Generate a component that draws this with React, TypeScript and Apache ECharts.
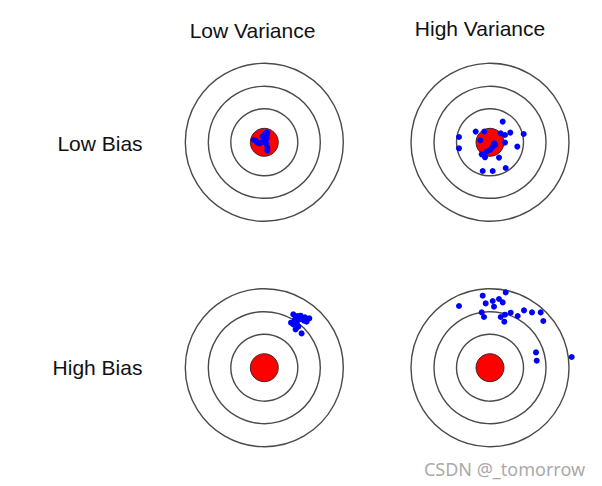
import React, { useEffect, useRef } from "react";
import * as echarts from "echarts";

// Target geometry (data units = pixels relative to each target's centre)
const ringRadii = [79, 56, 33.5];
const bullRadius = 14;

// Column / row labels
const columnLabels = ["Low Variance", "High Variance"];
const rowLabels = ["Low Bias", "High Bias"];

// Shots: [dx, dy] relative to the bull's-eye, y up
const lowBiasLowVar = [
  [-10.3, 2.3], [-7, -0.3], [-4.3, -1], [-1.7, 5.7], [1, 9], [3, 9.7],
  [2.3, 4], [1.7, -1], [3, -5], [3, -8.3], [-1, 0.7], [-8.5, 1.5], [2.5, 7],
];
const lowBiasHighVar = [
  [12.7, 20.7], [-14.3, 10.7], [-5.7, 10.7], [-31, 5.3], [-31, -6], [-9.7, 2],
  [10.7, 9], [15, 7.3], [20.3, 9.7], [33.7, 8.3], [15, -0.3], [27.3, -4.3],
  [4.3, -1], [2.3, -5], [0, -7.7], [-3.3, -9.3], [-8.3, -12], [-5, -15],
  [9, -15.3], [15.7, -25.7], [-7.3, -28.7], [2.7, -28.7], [5, -2.7],
];
const highBiasLowVar = [
  [29, 53.3], [33, 51.7], [36.3, 52], [40.7, 50.3], [45, 49.3], [39.7, 47],
  [35, 48.3], [30.7, 48.3], [26.7, 45], [29, 43.3], [32.3, 44.3], [31.3, 38.3],
  [37.3, 34.3], [34, 41], [42.3, 46],
];
const highBiasHighVar = [
  [15.7, 75.3], [-7.3, 72], [-31, 61.7], [-4.3, 64.3], [2.7, 66.7], [9, 68.7],
  [12.7, 65.3], [4, 61], [-8.3, 55.3], [-6, 50.7], [10.7, 50.7], [14.3, 46],
  [15, 53], [20.7, 55], [27.7, 51.7], [34, 57.3], [42, 55.3], [50.7, 55.3],
  [53.3, 46.7], [46, 15.3], [46.7, 7], [81.7, 10.7],
];

const panels = [
  { shots: lowBiasLowVar, cx: 264.3, cy: 142.3 },
  { shots: lowBiasHighVar, cx: 490, cy: 142.3 },
  { shots: highBiasLowVar, cx: 264.3, cy: 367.7 },
  { shots: highBiasHighVar, cx: 490, cy: 367.7 },
];

const HALF = 90;

export default function App() {
  const ref = useRef<HTMLDivElement>(null);
  useEffect(() => {
    document.body.style.margin = "0";
    if (!ref.current) return;
    const chart = echarts.init(ref.current, null, { renderer: "svg" });

    const grids: any[] = [];
    const xAxes: any[] = [];
    const yAxes: any[] = [];
    const series: any[] = [];

    panels.forEach((p, i) => {
      grids.push({
        left: p.cx - HALF,
        top: p.cy - HALF,
        width: HALF * 2,
        height: HALF * 2,
        containLabel: false,
      });
      const ax = { type: "value", min: -HALF, max: HALF, show: false, gridIndex: i };
      xAxes.push({ ...ax });
      yAxes.push({ ...ax });

      const circleItem = (fill: string, stroke: string, lw: number) =>
        (params: any, api: any) => {
          const c = api.coord([api.value(0), api.value(1)]);
          const r = api.size([api.value(2), 0])[0];
          return {
            type: "circle",
            shape: { cx: c[0], cy: c[1], r },
            style: { fill, stroke, lineWidth: lw },
          };
        };

      series.push({
        type: "custom",
        xAxisIndex: i,
        yAxisIndex: i,
        silent: true,
        clip: false,
        renderItem: circleItem("none", "#4a4a4a", 1.4),
        data: ringRadii.map((r) => [0, 0, r]),
        z: 1,
      });
      series.push({
        type: "custom",
        xAxisIndex: i,
        yAxisIndex: i,
        silent: true,
        clip: false,
        renderItem: circleItem("#ff0000", "#4a2020", 1),
        data: [[0, 0, bullRadius]],
        z: 2,
      });
      series.push({
        type: "scatter",
        xAxisIndex: i,
        yAxisIndex: i,
        symbol: "circle",
        symbolSize: 6,
        itemStyle: { color: "#0000ff", opacity: 1 },
        data: p.shots,
        z: 3,
      });
    });

    const labelStyle = {
      fontFamily: "Liberation Sans, Arial, sans-serif",
      fontSize: 21,
      fill: "#111111",
      textAlign: "center",
      textVerticalAlign: "middle",
    };

    chart.setOption({
      animation: false,
      backgroundColor: "#ffffff",
      grid: grids,
      xAxis: xAxes,
      yAxis: yAxes,
      series,
      graphic: [
        { type: "text", x: 252.5, y: 30.3, style: { ...labelStyle, text: columnLabels[0] } },
        { type: "text", x: 480, y: 28.3, style: { ...labelStyle, text: columnLabels[1] } },
        { type: "text", x: 100, y: 143.6, style: { ...labelStyle, text: rowLabels[0] } },
        { type: "text", x: 97.5, y: 367.6, style: { ...labelStyle, text: rowLabels[1] } },
        {
          type: "text",
          x: 504.5,
          y: 468.5,
          style: {
            text: "CSDN @_tomorrow",
            fontFamily: "Noto Sans, Open Sans, sans-serif",
            fontSize: 18,
            fill: "#aaaaaa",
            textAlign: "center",
            textVerticalAlign: "middle",
          },
        },
      ],
    });
    return () => chart.dispose();
  }, []);
  return <div ref={ref} style={{ width: 602, height: 486 }} />;
}
